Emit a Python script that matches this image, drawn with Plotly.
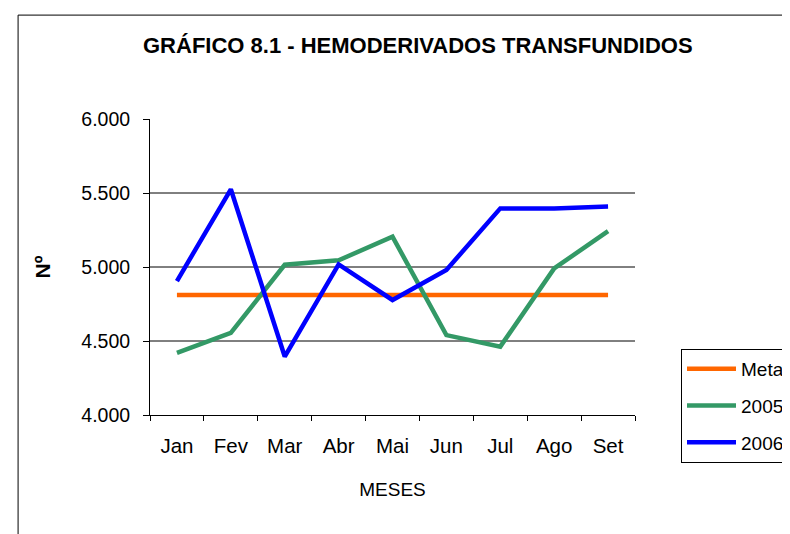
import plotly.graph_objects as go

months = ["Jan", "Fev", "Mar", "Abr", "Mai", "Jun", "Jul", "Ago", "Set"]
meta = [4810, 4810, 4810, 4810, 4810, 4810, 4810, 4810, 4810]
y2005 = [4420, 4555, 5015, 5045, 5205, 4540, 4462, 4990, 5243]
y2006 = [4905, 5525, 4395, 5018, 4777, 4980, 5396, 5396, 5408]
grid_vals = [4500, 5000, 5500]
y_ticks = [4000, 4500, 5000, 5500, 6000]

FONT = "Liberation Sans, Arial, sans-serif"

fig = go.Figure()
series = [("Meta", meta, "#FF6600"), ("2005", y2005, "#339966"), ("2006", y2006, "#0000FF")]
for name, vals, col in series:
    fig.add_trace(go.Scatter(x=months, y=vals, mode="lines", name=name,
                             legendgroup=name,
                             line=dict(color=col, width=4.5)))

for g in grid_vals:
    fig.add_shape(type="line", xref="paper", x0=0, x1=1, yref="y", y0=g, y1=g,
                  line=dict(color="#000000", width=1), layer="below")

# chart border (cropped at right & bottom)
fig.add_shape(type="rect", xref="paper", yref="paper", x0=-0.272, x1=1.5, y0=-0.6, y1=1.351,
              line=dict(color="#000000", width=1), fillcolor="rgba(0,0,0,0)")

fig.update_layout(
    width=790, height=534,
    margin=dict(l=142, r=163, t=111, b=127),
    paper_bgcolor="white", plot_bgcolor="white",
    separators=",.",
    font=dict(family=FONT, color="black", size=19),
    title=dict(text="<b>GRÁFICO 8.1 - HEMODERIVADOS TRANSFUNDIDOS</b>",
               x=135/790, xref="container", xanchor="left", y=1 - 37/534, yanchor="middle",
               font=dict(size=22, family=FONT, color="black")),
    showlegend=True,
    legend=dict(xref="container", yref="container",
                x=673/790, xanchor="left", y=1 - 341/534, yanchor="top",
                bordercolor="black", borderwidth=1, bgcolor="white",
                tracegroupgap=9, font=dict(size=19, family=FONT),
                itemwidth=49),
    xaxis=dict(showgrid=False, showline=True, linecolor="#000000", linewidth=1,
               ticks="outside", ticklen=5, tickcolor="#000000", tickson="boundaries",
               tickfont=dict(size=20.5), range=[-0.5, 8.5], ticklabelstandoff=12,
               title=dict(text="MESES", font=dict(size=19), standoff=27)),
    yaxis=dict(showgrid=False, showline=True, linecolor="#000000", linewidth=1,
               ticks="outside", ticklen=6, tickcolor="#000000",
               range=[4000, 6000], tickvals=y_ticks, tickformat=",d",
               tickfont=dict(size=19.5), zeroline=False, ticklabelstandoff=9,
               title=dict(text="<b>Nº</b>", font=dict(size=21), standoff=24)),
)
fig.write_html("out.html")
